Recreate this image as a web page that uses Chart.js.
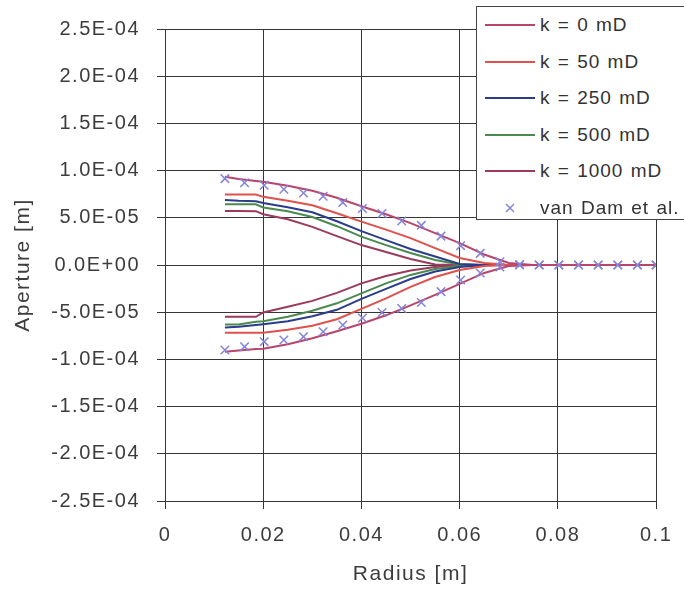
<!DOCTYPE html>
<html lang="en">
<head>
    <meta charset="UTF-8">
    <title>Aperture vs Radius</title>
    <script src="https://cdn.jsdelivr.net/npm/chart.js"></script>
    <style>
        html, body { margin: 0; padding: 0; background: #fff; overflow: hidden; }
        #wrap { position: relative; width: 684px; height: 591px; }
        #legend {
            position: absolute; left: 476px; top: 6px; width: 230px; height: 214px;
            background: #fff; border: 1px solid #444; box-sizing: border-box;
            font-family: "Liberation Sans", Arial, sans-serif; font-size: 19px;
            letter-spacing: 1px; word-spacing: 1px; color: #333;
        }
        .row { position: absolute; left: 0; height: 36px; width: 100%; }
        .sample { position: absolute; left: 8px; top: 17px; width: 50px; height: 2px; }
        .mark { position: absolute; left: 28px; top: 13px; }
        .label { position: absolute; left: 63px; top: 0; line-height: 36px; white-space: nowrap; }
    </style>
</head>
<body>
    <div id="wrap">
        <canvas id="chart" width="684" height="591"></canvas>
        <div id="legend"></div>
    </div>

    <script>
        // aperture values are in units of 1e-5 m
        const unit = 1e-5;
        const radius = [0.0122, 0.015, 0.0185, 0.02, 0.025, 0.03, 0.035, 0.04, 0.045, 0.05, 0.055, 0.06, 0.065, 0.07, 0.075, 0.1];

        const k0Upper = [9.34, 9.12, 8.91, 8.81, 8.39, 7.86, 7.12, 6.22, 5.38, 4.43, 3.38, 2.32, 1.11, 0.21, 0, 0];
        const k0Lower = [-9.18, -9.07, -8.91, -8.86, -8.39, -7.75, -7.01, -6.22, -5.33, -4.27, -3.16, -2.00, -0.84, -0.11, 0, 0];
        const k50Upper = [7.46, 7.46, 7.46, 7.22, 6.80, 6.33, 5.49, 4.59, 3.75, 2.85, 1.79, 0.74, 0.21, 0, 0, 0];
        const k50Lower = [-7.17, -7.17, -7.17, -7.17, -6.86, -6.43, -5.75, -4.64, -3.53, -2.32, -1.27, -0.53, -0.11, 0, 0, 0];
        const k250Upper = [6.89, 6.80, 6.75, 6.57, 6.12, 5.59, 4.64, 3.59, 2.64, 1.69, 0.90, 0.11, 0, 0, 0, 0];
        const k250Lower = [-6.61, -6.55, -6.36, -6.28, -5.96, -5.43, -4.75, -3.59, -2.53, -1.48, -0.69, -0.21, 0, 0, 0, 0];
        const k500Upper = [6.43, 6.43, 6.43, 6.09, 5.70, 5.09, 4.11, 3.01, 2.11, 1.27, 0.53, 0.05, 0, 0, 0, 0];
        const k500Lower = [-6.30, -6.30, -6.01, -5.96, -5.49, -4.85, -4.06, -3.01, -1.95, -1.05, -0.42, -0.11, 0, 0, 0, 0];
        const k1000Upper = [5.73, 5.73, 5.70, 5.38, 4.85, 4.04, 3.06, 2.11, 1.37, 0.63, 0.05, 0, 0, 0, 0, 0];
        const k1000Lower = [-5.49, -5.49, -5.49, -5.03, -4.43, -3.80, -2.95, -1.95, -1.16, -0.58, -0.21, 0, 0, 0, 0, 0];

        const vdRadius = [0.0122, 0.0162, 0.0202, 0.0242, 0.0282, 0.0322, 0.0362, 0.0402, 0.0442, 0.0482, 0.0522, 0.0562, 0.0602, 0.0642, 0.0682, 0.0722, 0.0762, 0.0802, 0.0842, 0.0882, 0.0922, 0.0962, 0.1];
        const vdUpper = [9.15, 8.72, 8.44, 8.02, 7.63, 7.28, 6.61, 5.98, 5.45, 4.67, 4.20, 3.06, 2.05, 1.23, 0.35, 0.05, 0, 0, 0, 0, 0, 0, 0];
        const vdLower = [-9.00, -8.65, -8.12, -7.94, -7.59, -7.07, -6.36, -5.62, -5.03, -4.60, -3.98, -2.82, -1.58, -0.84, -0.21, 0, 0, 0, 0, 0, 0, 0, 0];

        const xTicks = [0, 0.02, 0.04, 0.06, 0.08, 0.1];

        // upper branch out to the tip, then the lower branch back
        function branch(xs, upper, lower) {
            const pts = xs.map((x, i) => ({x: x, y: upper[i] * unit}));
            for (let i = xs.length - 1; i >= 0; i--) pts.push({x: xs[i], y: lower[i] * unit});
            return pts;
        }

        function sci(v) {
            if (Math.abs(v) < 1e-12) return '0.0E+00';
            const parts = v.toExponential(1).split('e');
            const n = parseInt(parts[1]);
            return parts[0] + 'E' + (n < 0 ? '-' : '+') + String(Math.abs(n)).padStart(2, '0');
        }

        const curves = [
            {label: 'k = 0 mD', color: '#b9446c', up: k0Upper, low: k0Lower},
            {label: 'k = 50 mD', color: '#e0504c', up: k50Upper, low: k50Lower},
            {label: 'k = 250 mD', color: '#2a3c8a', up: k250Upper, low: k250Lower},
            {label: 'k = 500 mD', color: '#4a8a4e', up: k500Upper, low: k500Lower},
            {label: 'k = 1000 mD', color: '#9c3a5e', up: k1000Upper, low: k1000Lower}
        ];

        const datasets = curves.map((c, i) => ({
            label: c.label,
            data: branch(radius, c.up, c.low),
            showLine: true,
            borderColor: c.color,
            borderWidth: 2,
            pointRadius: 0,
            fill: false,
            order: i + 1
        }));
        datasets.push({
            label: 'van Dam et al.',
            data: branch(vdRadius, vdUpper, vdLower),
            showLine: false,
            pointStyle: 'crossRot',
            pointRadius: 6,
            borderColor: '#8484d8',
            backgroundColor: '#8484d8',
            pointBorderWidth: 1.5,
            order: 0
        });

        const font = {family: '"Liberation Sans", Arial, sans-serif', size: 20};
        const gridColor = '#363636';

        const spacing = {
            id: 'spacing',
            beforeDraw(chart) { chart.ctx.letterSpacing = '1.5px'; }
        };

        const chart = new Chart(document.getElementById('chart'), {
            type: 'scatter',
            data: {datasets: datasets},
            plugins: [spacing],
            options: {
                responsive: false,
                animation: false,
                layout: {padding: {left: 0, top: 28, right: 25, bottom: 0}},
                plugins: {legend: {display: false}, tooltip: {enabled: false}},
                scales: {
                    x: {
                        type: 'linear', min: 0, max: 0.1,
                        afterBuildTicks(axis) { axis.ticks = xTicks.map(v => ({value: v})); },
                        afterFit(axis) { axis.height = 90; },
                        ticks: {
                            font: font, color: '#3c3c3c', padding: 14, maxRotation: 0, autoSkip: false,
                            callback: v => v === 0 ? '0' : String(+v.toFixed(2))
                        },
                        grid: {color: gridColor, lineWidth: 1, tickLength: 8},
                        border: {color: gridColor},
                        title: {display: true, text: 'Radius [m]', font: {family: font.family, size: 21}, color: '#3c3c3c', padding: {top: 0, bottom: 4}}
                    },
                    y: {
                        type: 'linear', min: -2.5e-4, max: 2.5e-4,
                        ticks: {
                            stepSize: 5e-5, font: font, color: '#3c3c3c', padding: 17, autoSkip: false,
                            callback: v => sci(v)
                        },
                        afterFit(axis) { axis.width = 165; },
                        grid: {color: gridColor, lineWidth: 1, tickLength: 8},
                        border: {color: gridColor},
                        title: {display: true, text: 'Aperture [m]', font: {family: font.family, size: 21}, color: '#3c3c3c', padding: {top: 11, bottom: 0}}
                    }
                }
            }
        });

        // legend box drawn over the plot, built from the chart datasets
        const legend = document.getElementById('legend');
        chart.data.datasets.forEach((ds, i) => {
            const row = document.createElement('div');
            row.className = 'row';
            row.style.top = (i * 36.6) + 'px';
            if (ds.showLine) {
                row.innerHTML = '<div class="sample" style="background:' + ds.borderColor + '"></div>';
            } else {
                row.innerHTML = '<svg class="mark" width="10" height="10"><path d="M1 1L9 9M9 1L1 9" stroke="' + ds.borderColor + '" stroke-width="1.5"/></svg>';
            }
            row.innerHTML += '<span class="label">' + ds.label + '</span>';
            legend.appendChild(row);
        });
    </script>
</body>
</html>
